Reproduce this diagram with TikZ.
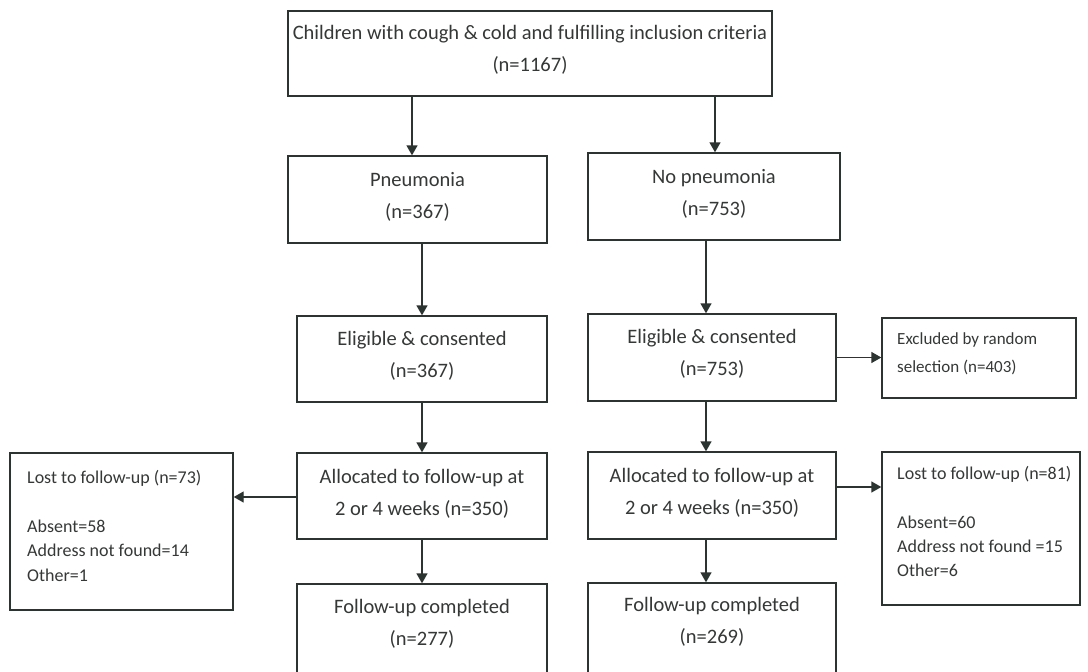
\documentclass[tikz,border=0pt]{standalone}
\usepackage{fontspec}
\setmainfont{Carlito}
\usetikzlibrary{arrows.meta}
\definecolor{ink}{HTML}{2C3431}
\definecolor{txtc}{HTML}{353837}
\tikzset{
  box/.style={draw=ink, line width=1.4pt, rectangle, inner sep=0pt},
  maintxt/.style={text=txtc, font=\fontsize{20.5}{32}\selectfont, align=center, inner sep=0pt},
  sidetxt/.style={text=txtc, font=\fontsize{18}{24.3}\selectfont, align=left, inner sep=0pt, anchor=west},
  exctxt/.style={text=txtc, font=\fontsize{17}{28}\selectfont, align=left, inner sep=0pt, anchor=west},
  arr/.style={draw=ink, line width=1.4pt, -{Triangle[length=10pt,width=11pt]}},
}
\begin{document}
\begin{tikzpicture}[x=1pt,y=-1pt]
\useasboundingbox (0,0) rectangle (1088,672);
\clip (0,0) rectangle (1088,672);
\fill[white] (0,0) rectangle (1088,672);

% boxes
\node[box, minimum width=484pt, minimum height=85pt] (top) at (530,53.5) {};
\node[box, minimum width=259pt, minimum height=87pt] (pn) at (417.5,199.5) {};
\node[box, minimum width=252pt, minimum height=87pt] (np) at (714,196.5) {};
\node[box, minimum width=250pt, minimum height=86pt] (el) at (422,359) {};
\node[box, minimum width=248pt, minimum height=87pt] (er) at (712,357.5) {};
\node[box, minimum width=194pt, minimum height=80pt] (ex) at (979,358) {};
\node[box, minimum width=250pt, minimum height=86pt] (al) at (422,496) {};
\node[box, minimum width=248pt, minimum height=87pt] (ar) at (712,495.5) {};
\node[box, minimum width=223pt, minimum height=157pt] (ll) at (121.5,531.5) {};
\node[box, minimum width=198pt, minimum height=153pt] (lr) at (981,528.5) {};
\node[box, minimum width=250pt, minimum height=106pt] (fl) at (422,637) {};
\node[box, minimum width=248pt, minimum height=107pt] (fr) at (712,636.5) {};

% texts
\node[maintxt] (topt) at (530,50) {Children with cough \& cold and fulfilling inclusion criteria\\(n=1167)};
\node[maintxt] (pnt) at (417.5,197) {Pneumonia\\(n=367)};
\node[maintxt] (npt) at (714,193.5) {No pneumonia\\(n=753)};
\node[maintxt] (elt) at (422,355.5) {Eligible \& consented\\(n=367)};
\node[maintxt] (ert) at (712,353.5) {Eligible \& consented\\(n=753)};
\node[maintxt] (alt) at (422,493.5) {Allocated to follow-up at\\2 or 4 weeks (n=350)};
\node[maintxt] (art) at (712,492.5) {Allocated to follow-up at\\2 or 4 weeks (n=350)};
\node[maintxt] (flt) at (422,623.5) {Follow-up completed\\(n=277)};
\node[maintxt] (frt) at (712,621.5) {Follow-up completed\\(n=269)};
\node[exctxt] (ext) at (897,354) {Excluded by random\\selection (n=403)};
\node[sidetxt] (llt) at (27,526) {Lost to follow-up (n=73)\\[24.3pt]Absent=58\\Address not found=14\\Other=1};
\node[sidetxt] (lrt) at (897,521.5) {Lost to follow-up (n=81)\\[24.3pt]Absent=60\\Address not found =15\\Other=6};

% connectors
\draw[arr] (412,0 |- top.south) -- (412,0 |- pn.north);
\draw[arr] (715,0 |- top.south) -- (715,0 |- np.north);
\draw[arr] (el.north |- pn.south) -- (el.north);
\draw[arr] (706,0 |- np.south) -- (706,0 |- er.north);
\draw[arr] (er.east) -- (ex.west |- er.east);
\draw[arr] (al.north |- el.south) -- (al.north);
\draw[arr] (706,0 |- er.south) -- (706,0 |- ar.north);
\draw[arr] (al.west |- 0,497) -- (ll.east |- 0,497);
\draw[arr] (ar.east |- 0,487) -- (lr.west |- 0,487);
\draw[arr] (al.south) -- (fl.north);
\draw[arr] (706,0 |- ar.south) -- (706,0 |- fr.north);
\end{tikzpicture}
\end{document}
